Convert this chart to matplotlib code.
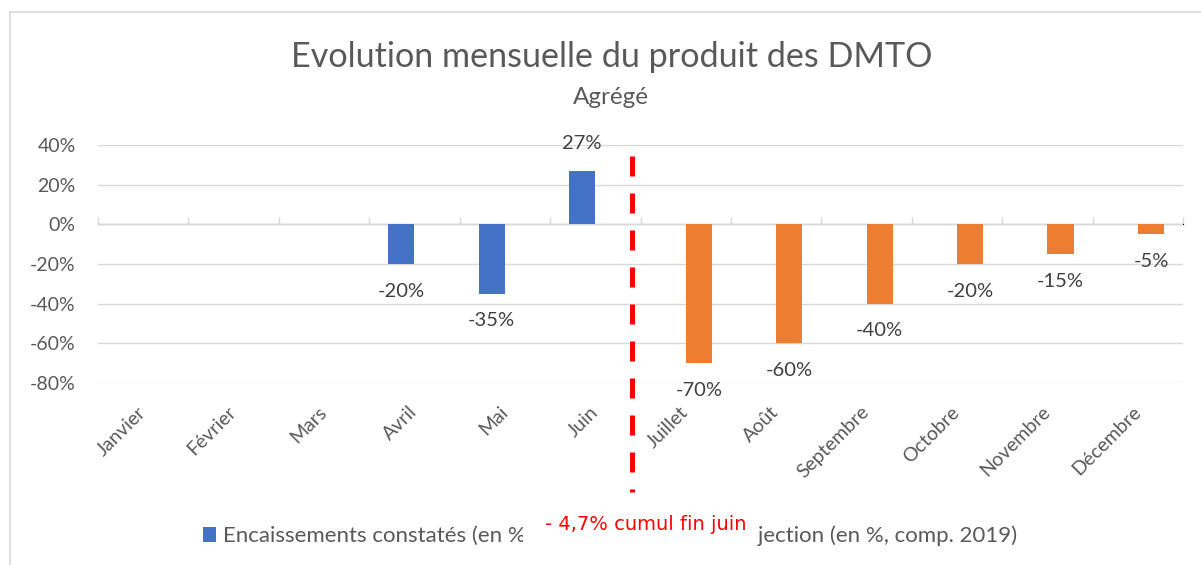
import matplotlib
matplotlib.use("Agg")
import matplotlib.pyplot as plt
import numpy as np
from matplotlib.patches import Patch, Rectangle
from matplotlib.lines import Line2D

plt.rcParams['font.family'] = ['Lato', 'DejaVu Sans']

months = ['Janvier', 'Février', 'Mars', 'Avril', 'Mai', 'Juin', 'Juillet',
          'Août', 'Septembre', 'Octobre', 'Novembre', 'Décembre']
# None = pas de valeur pour le mois
constates = [None, None, None, -20, -35, 27, None, None, None, None, None, None]
projection = [None, None, None, None, None, None, -70, -60, -40, -20, -15, -5]
series_names = ['Encaissements constatés (en %, comp. 2019)',
                'Projection (en %, comp. 2019)']
yticks = [-80, -60, -40, -20, 0, 20, 40]
split_pos = 5.4
note = '- 4,7% cumul fin juin'

blue = '#4472C4'
orange = '#ED7D31'
grey_txt = '#595959'
grid_col = '#D9D9D9'

fig = plt.figure(figsize=(12.01, 5.65), dpi=100)
ax = fig.add_axes([0.0816, 0.3221, 0.9035, 0.4213])

x = np.arange(len(months))
w = 0.29
for vals, off, col in [(constates, -0.145, blue), (projection, 0.145, orange)]:
    for xi, v in zip(x, vals):
        if v is None:
            continue
        ax.bar(xi + off, v, width=w, color=col, zorder=3)
        ax.annotate(f'{v}%', (xi + off, v), xytext=(0, 19.5 if v > 0 else -19.5),
                    textcoords='offset points', ha='center', va='center',
                    fontsize=14.5, color='#404040', zorder=4)

ax.set_xlim(-0.5, len(months) - 0.5)
ax.set_ylim(-80, 40)
ax.set_yticks(yticks, labels=[f'{t}%' for t in yticks])
ax.set_xticks(x, labels=months)
ax.tick_params(axis='x', length=0, pad=19, labelsize=14, labelcolor=grey_txt)
ax.tick_params(axis='y', length=0, pad=16, labelsize=14, labelcolor=grey_txt)
for lab in ax.get_xticklabels():
    lab.set_rotation(45)
    lab.set_ha('right')
    lab.set_va('center')
    lab.set_rotation_mode('anchor')
ax.grid(axis='y', color=grid_col, linewidth=1.0, zorder=0)
ax.set_axisbelow(True)
for s in ax.spines.values():
    s.set_visible(False)

# axe des categories sur la ligne 0%
sec = ax.secondary_xaxis(80 / 120)
sec.set_xticks(np.arange(len(months) + 1) - 0.5, labels=[])
sec.tick_params(axis='x', direction='out', length=5, width=1.0, color=grid_col)
sec.spines['bottom'].set_color(grid_col)
sec.spines['bottom'].set_linewidth(1.0)

# ligne de separation rouge
ax.plot([split_pos, split_pos], [34.3, -135], color='#FF0000', linewidth=3.6,
        dashes=(4, 3.4), solid_capstyle='butt', dash_capstyle='butt',
        clip_on=False, zorder=5)

fig.text(0.509, 1 - 57 / 565, 'Evolution mensuelle du produit des DMTO',
         ha='center', va='center', fontsize=24.6, color=grey_txt)
fig.text(0.509, 1 - 97 / 565, 'Agrégé', ha='center', va='center',
         fontsize=17.5, color=grey_txt)

handles = [Patch(facecolor=blue), Patch(facecolor=orange)]
fig.legend(handles, series_names, loc='center left', bbox_to_anchor=(203 / 1201, 1 - 536 / 565),
           ncol=2, frameon=False, fontsize=16, labelcolor=grey_txt, borderpad=0,
           borderaxespad=0, handlelength=0.6, handleheight=0.6, handletextpad=0.3,
           columnspacing=2.0)

# encadre blanc + note rouge
fig.add_artist(Rectangle((523 / 1201, 1 - 552 / 565), 234 / 1201, 48 / 565,
                         transform=fig.transFigure, facecolor='white',
                         edgecolor='none', zorder=9))
fig.text(646 / 1201, 1 - 525 / 565, note, ha='center', va='center',
         fontsize=14, color='#FF0000', family='DejaVu Sans', zorder=10)

# cadre du graphique
fig.add_artist(Line2D([10 / 1201, 10 / 1201], [0, 1 - 12 / 565], color=grid_col, linewidth=1.2))
fig.add_artist(Line2D([10 / 1201, 1], [1 - 12 / 565, 1 - 12 / 565], color=grid_col, linewidth=1.2))

fig.savefig('out.png', dpi=100)
